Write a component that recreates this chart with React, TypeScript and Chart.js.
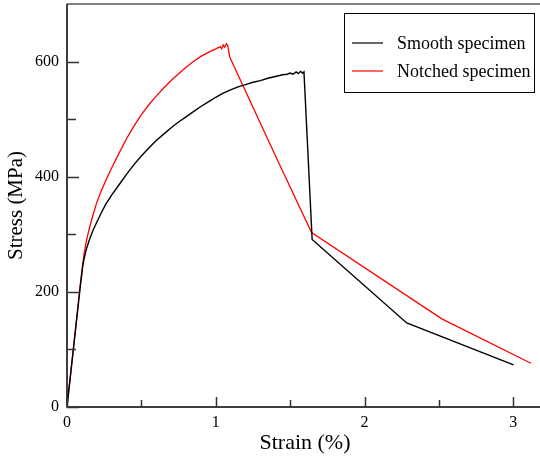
import React, { useEffect, useRef } from 'react';
import { Chart, registerables } from 'chart.js';

Chart.register(...registerables);

const seriesLabels = ['Smooth specimen', 'Notched specimen'];
const seriesColors = ['#000000', '#ff0000'];

const smoothStrain = [
  0, 0.05, 0.09, 0.105, 0.115, 0.13, 0.15, 0.175, 0.2, 0.23, 0.26, 0.3, 0.35, 0.4, 0.45,
  0.5, 0.55, 0.6, 0.65, 0.7, 0.75, 0.8, 0.85, 0.9, 0.95, 1.0, 1.05, 1.1, 1.15, 1.2,
  1.25, 1.3, 1.35, 1.4, 1.45, 1.48, 1.5, 1.52, 1.54, 1.555, 1.57, 1.585, 1.593, 1.648, 2.284, 3.002,
];
const smoothStress = [
  0, 117, 211, 243, 258, 274, 290, 307, 321, 337, 352, 368, 386, 404, 421,
  436, 450, 463, 474, 485, 495, 504, 513, 522, 530, 538, 545, 551, 556, 560,
  564, 567, 571, 574, 577, 578, 580, 578, 582, 579, 583, 580, 582, 291, 146, 73,
];

const notchedStrain = [
  0, 0.05, 0.09, 0.105, 0.115, 0.13, 0.15, 0.175, 0.2, 0.23, 0.26, 0.3, 0.35, 0.4, 0.45,
  0.5, 0.55, 0.6, 0.65, 0.7, 0.75, 0.8, 0.85, 0.9, 0.95, 1.0, 1.03, 1.04, 1.05, 1.06,
  1.072, 1.08, 1.094, 1.409, 1.644, 2.52, 3.119,
];
const notchedStress = [
  0, 119, 214, 247, 266, 288, 310, 334, 355, 375, 393, 415, 441, 466, 488,
  508, 525, 540, 554, 567, 579, 590, 600, 609, 616, 622, 626, 622, 629, 625,
  631, 628, 608, 432, 303, 153, 76,
];

const xMajorTicks = [0, 1, 2, 3];
const xMinorTicks = [0.5, 1.5, 2.5];
const yMajorTicks = [0, 200, 400, 600];
const yMinorTicks = [100, 300, 500];

const FONT = '"Liberation Serif", "Times New Roman", serif';

const axisPlugin = {
  id: 'axisDecor',
  afterDatasetsDraw(chart: any) {
    const { ctx, chartArea } = chart;
    const { left, right, top, bottom } = chartArea;
    const xs = chart.scales.x;
    const ys = chart.scales.y;
    ctx.save();
    ctx.strokeStyle = '#808080';
    ctx.lineWidth = 2;
    ctx.beginPath();
    ctx.moveTo(left, top);
    ctx.lineTo(right, top);
    ctx.stroke();
    ctx.strokeStyle = '#000';
    ctx.lineWidth = 1.5;
    ctx.beginPath();
    ctx.moveTo(left, top);
    ctx.lineTo(left, bottom);
    ctx.lineTo(right, bottom);
    ctx.stroke();
    ctx.strokeStyle = '#333';
    ctx.lineWidth = 1.5;
    ctx.beginPath();
    xMajorTicks.forEach((v) => {
      const px = Math.round(xs.getPixelForValue(v)) + 0.5;
      ctx.moveTo(px, bottom);
      ctx.lineTo(px, bottom - 10);
    });
    xMinorTicks.forEach((v) => {
      const px = Math.round(xs.getPixelForValue(v)) + 0.5;
      ctx.moveTo(px, bottom);
      ctx.lineTo(px, bottom - 7);
    });
    yMajorTicks.forEach((v) => {
      const py = Math.round(ys.getPixelForValue(v)) + 0.5;
      ctx.moveTo(left, py);
      ctx.lineTo(left + 12, py);
    });
    yMinorTicks.forEach((v) => {
      const py = Math.round(ys.getPixelForValue(v)) + 0.5;
      ctx.moveTo(left, py);
      ctx.lineTo(left + 9, py);
    });
    ctx.stroke();
    ctx.restore();
  },
};

const legendPlugin = {
  id: 'boxLegend',
  afterDraw(chart: any) {
    const { ctx } = chart;
    const bx = 344.5, by = 13.5, bw = 190, bh = 79;
    ctx.save();
    ctx.fillStyle = '#fff';
    ctx.fillRect(bx, by, bw, bh);
    ctx.strokeStyle = '#000';
    ctx.lineWidth = 1;
    ctx.strokeRect(bx, by, bw, bh);
    chart.data.datasets.forEach((ds: any, i: number) => {
      const y = 43 + i * 28;
      ctx.strokeStyle = seriesColors[i];
      ctx.lineWidth = 1.2;
      ctx.beginPath();
      ctx.moveTo(352, y);
      ctx.lineTo(383, y);
      ctx.stroke();
      ctx.fillStyle = '#000';
      ctx.font = `18px ${FONT}`;
      ctx.textBaseline = 'middle';
      ctx.textAlign = 'left';
      ctx.fillText(ds.label, 397, y + 1);
    });
    ctx.restore();
  },
};

export default function App() {
  const ref = useRef<HTMLCanvasElement | null>(null);
  useEffect(() => {
    if (!ref.current) return;
    const chart = new Chart(ref.current, {
      type: 'line',
      data: {
        datasets: [
          {
            label: seriesLabels[0],
            data: smoothStrain.map((x, i) => ({ x, y: smoothStress[i] })),
            borderColor: seriesColors[0],
            borderWidth: 1.4,
            pointRadius: 0,
            tension: 0,
            fill: false,
          },
          {
            label: seriesLabels[1],
            data: notchedStrain.map((x, i) => ({ x, y: notchedStress[i] })),
            borderColor: seriesColors[1],
            borderWidth: 1.3,
            pointRadius: 0,
            tension: 0,
            fill: false,
          },
        ],
      },
      options: {
        animation: false,
        responsive: false,
        devicePixelRatio: 1,
        layout: { padding: { top: 4, left: 0, right: 0, bottom: 0 } },
        plugins: { legend: { display: false }, tooltip: { enabled: false } },
        scales: {
          x: {
            type: 'linear',
            min: 0,
            max: 3.2,
            afterBuildTicks: (s: any) => {
              s.ticks = xMajorTicks.map((v) => ({ value: v }));
            },
            afterFit: (s: any) => {
              s.height = 52;
              s.paddingLeft = 0;
              s.paddingRight = 0;
            },
            grid: { display: false, drawTicks: false },
            border: { display: false },
            ticks: {
              color: '#000',
              font: { family: FONT, size: 16 },
              padding: 6,
              maxRotation: 0,
              autoSkip: false,
              callback: (v: any) => String(v),
            },
            title: {
              display: true,
              text: 'Strain (%)',
              color: '#000',
              font: { family: FONT, size: 22 },
              padding: { top: 0, bottom: 3 },
            },
          },
          y: {
            type: 'linear',
            min: 0,
            max: 700,
            afterBuildTicks: (s: any) => {
              s.ticks = yMajorTicks.map((v) => ({ value: v }));
            },
            afterFit: (s: any) => {
              s.width = 67;
              s.paddingTop = 0;
              s.paddingBottom = 0;
            },
            grid: { display: false, drawTicks: false },
            border: { display: false },
            ticks: {
              color: '#000',
              font: { family: FONT, size: 16 },
              padding: 8,
              callback: (v: any) => String(v),
            },
            title: {
              display: true,
              text: 'Stress (MPa)',
              color: '#000',
              font: { family: FONT, size: 21 },
              padding: { top: 4, bottom: 0 },
            },
          },
        },
      },
      plugins: [axisPlugin, legendPlugin],
    } as any);
    return () => chart.destroy();
  }, []);
  return (
    <div style={{ position: 'absolute', left: 0, top: 0, width: 540, height: 459, overflow: 'hidden', background: '#fff' }}>
      <canvas ref={ref} width={543} height={459} style={{ width: 543, height: 459, display: 'block' }} />
    </div>
  );
}
